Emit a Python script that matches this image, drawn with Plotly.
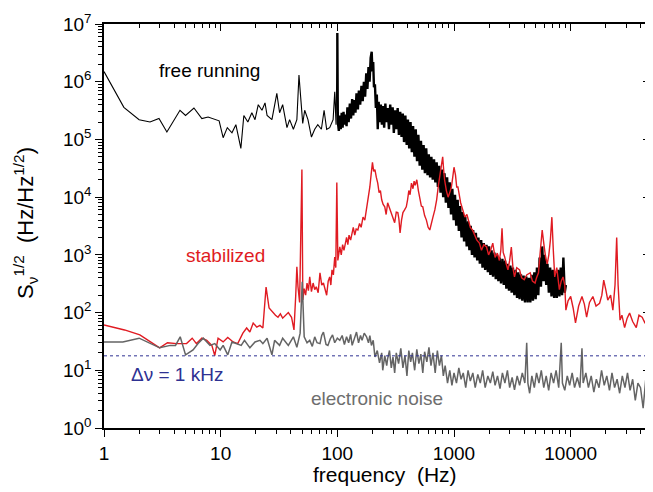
import plotly.graph_objects as go

# ---------------- data ----------------
# free running laser, below 100 Hz (thin single trace)
free_f_low = [1, 1.48, 2.0, 2.48, 2.96, 3.46, 4.48, 5.0, 5.9, 6.9, 7.8, 8.6, 9.7, 10.5, 11.4, 12.5, 13.5,
              14.9, 15.8, 17.1, 18.5, 19.7, 21, 22.6, 24, 25, 27.5, 30.3, 32, 34, 37, 39, 42, 45, 46.9,
              48.5, 50.5, 52.5, 56, 60, 64, 68, 73, 77, 81, 86, 92, 95, 97.5, 100]
free_s_low = [1.5e6, 3.6e5, 2.2e5, 2.0e5, 2.3e5, 1.35e5, 3.2e5, 2.6e5, 3.5e5, 2.3e5, 2.45e5, 2.3e5, 2.1e5,
              1.07e5, 1.6e5, 1.3e5, 1.8e5, 7e4, 2.6e5, 2.0e5, 2.9e5, 2.2e5, 4.0e5, 3.2e5, 4.3e5, 2.6e5,
              2.2e5, 6.3e5, 2.9e5, 4.0e5, 1.6e5, 2.2e5, 1.5e5, 2.2e5, 1.3e6, 5.4e5, 1.9e5, 3.2e5, 2.2e5,
              1.1e5, 1.5e5, 1.8e5, 1.5e5, 3.2e5, 1.5e5, 1.6e5, 2.2e5, 6.7e5, 1.8e5, 7e6]
# free running laser, above 100 Hz (dense noisy band)
free_f_high = [100, 101, 103, 105, 107, 109, 111, 113, 115, 117, 120, 122, 125, 128, 131, 134, 137, 140,
               143, 146, 150, 153, 157, 161, 165, 169, 173, 177, 181, 185, 189, 193, 197, 200, 203, 206,
               210, 214, 218, 222, 226, 231, 236, 241, 246, 252, 258, 264, 270, 277, 284, 291, 298, 305,
               313, 321, 329, 337, 346, 355, 364, 373, 383, 393, 403, 413, 424, 435, 446, 458, 470, 482,
               495, 508, 521, 535, 549, 563, 578, 593, 608, 624, 640, 657, 674, 692, 710, 728, 747, 767,
               787, 808, 829, 851, 873, 896, 919, 943, 968, 993, 1020, 1045, 1075, 1100, 1130, 1160, 1190,
               1220, 1250, 1285, 1320, 1355, 1390, 1425, 1460, 1500, 1540, 1580, 1620, 1665, 1710, 1755,
               1800, 1850, 1900, 1950, 2000, 2050, 2100, 2160, 2220, 2280, 2340, 2400, 2460, 2530, 2600,
               2670, 2740, 2810, 2880, 2960, 3040, 3120, 3200, 3290, 3380, 3470, 3560, 3650, 3750, 3850,
               3950, 4060, 4170, 4280, 4390, 4510, 4630, 4750, 4880, 5010, 5140, 5280, 5420, 5560, 5710,
               5860, 6010, 6170, 6330, 6500, 6670, 6850, 7030, 7220, 7410, 7600, 7800, 8010, 8220, 8440,
               8660, 8890, 9100]
free_s_high = [7e6, 2.0e5, 1.4e5, 2.6e5, 1.5e5, 2.9e5, 1.6e5, 3.0e5, 1.8e5, 2.7e5, 1.7e5, 3.6e5, 2.0e5,
               4.2e5, 2.3e5, 5.0e5, 2.6e5, 4.8e5, 2.9e5, 6.3e5, 3.3e5, 7.0e5, 4.0e5, 8.5e5, 4.6e5, 1.0e6,
               5.5e5, 1.4e6, 7.5e5, 1.8e6, 1.0e6, 2.6e6, 3.3e6, 1.5e6, 2.2e6, 8.0e5, 9.0e5, 3.5e5, 6.0e5,
               1.5e5, 4.5e5, 2.0e5, 4.0e5, 1.8e5, 3.8e5, 1.6e5, 4.2e5, 2.0e5, 3.5e5, 1.5e5, 4.0e5, 1.8e5,
               3.6e5, 1.3e5, 3.2e5, 1.5e5, 3.5e5, 1.2e5, 3.0e5, 1.1e5, 2.8e5, 9.0e4, 2.6e5, 8.0e4, 2.2e5,
               7.0e4, 2.0e5, 6.0e4, 1.7e5, 5.0e4, 1.5e5, 4.2e4, 1.2e5, 3.5e4, 9.5e4, 3.0e4, 8.0e4, 2.6e4,
               7.0e4, 2.4e4, 5.5e4, 2.2e4, 5.0e4, 2.0e4, 4.5e4, 1.8e4, 4.0e4, 1.5e4, 3.5e4, 1.2e4, 3.0e4,
               1.0e4, 2.6e4, 8.0e3, 2.2e4, 6.5e3, 1.8e4, 5.0e3, 1.4e4, 4.0e3, 1.1e4, 3.2e3, 9.0e3, 2.6e3,
               7.0e3, 2.0e3, 5.5e3, 1.7e3, 4.5e3, 1.4e3, 3.8e3, 1.2e3, 3.2e3, 1.0e3, 2.7e3, 9.0e2, 2.4e3,
               8.0e2, 2.0e3, 7.0e2, 1.8e3, 6.0e2, 1.6e3, 5.5e2, 1.5e3, 5.0e2, 1.4e3, 4.5e2, 1.2e3, 4.2e2,
               1.1e3, 3.8e2, 1.0e3, 3.5e2, 9.0e2, 3.2e2, 8.5e2, 3.0e2, 8.0e2, 2.6e2, 7.0e2, 2.4e2, 6.5e2,
               2.2e2, 6.0e2, 2.0e2, 5.5e2, 1.8e2, 5.0e2, 1.7e2, 4.6e2, 1.6e2, 4.4e2, 1.5e2, 4.2e2, 1.5e2,
               4.0e2, 1.5e2, 4.5e2, 1.6e2, 5.0e2, 1.7e2, 6.0e2, 2.0e2, 9.0e2, 2.8e2, 1.4e3, 3.5e2, 1.0e3,
               3.0e2, 7.0e2, 2.2e2, 6.0e2, 1.9e2, 5.5e2, 1.8e2, 5.0e2, 1.8e2, 5.5e2, 1.9e2, 6.0e2, 2.0e2,
               9.0e2, 2.2e2, 3.0e2]

stab_f = [1, 1.5, 2.03, 3.0, 3.5, 4.2, 5.1, 5.7, 6.2, 6.9, 7.6, 8.4, 8.9, 9.5, 10.5, 11.5, 12.8, 14,
          15.5, 16.7, 17.8, 19, 20.4, 21.7, 23, 24.5, 26, 28, 29.5, 31, 32.5, 34, 36, 38, 40.5, 42.5,
          44, 45, 46, 47.5, 49.7, 50.6, 52, 53.5, 55, 56.5, 58, 60, 62, 64, 66, 68.5, 71, 73.5, 76,
          78.5, 81, 83.5, 86, 88, 90, 92.5, 95, 97, 99, 101, 103, 105, 108, 111, 114, 117, 120, 123,
          126, 130, 134, 137, 141, 145, 150, 155, 160, 166, 172, 178, 184, 190, 195, 200, 205, 210,
          216, 222, 228, 234, 240, 247, 255, 262, 270, 280, 290, 300, 310, 320, 330, 337, 345, 355,
          365, 377, 390, 400, 410, 420, 432, 445, 455, 465, 480, 495, 510, 525, 540, 560, 580, 600,
          620, 640, 660, 685, 710, 735, 760, 780, 800, 815, 830, 860, 890, 920, 950, 975, 1000, 1030,
          1055, 1080, 1110, 1140, 1190, 1240, 1290, 1320, 1380, 1440, 1500, 1570, 1650, 1720, 1800,
          1900, 1980, 2060, 2150, 2250, 2350, 2450, 2520, 2580, 2640, 2720, 2800, 2900, 3000, 3100,
          3200, 3300, 3450, 3650, 3800, 4000, 4200, 4500, 4700, 4950, 5100, 5300, 5500, 5700, 5900,
          6100, 6300, 6500, 6700, 6900, 7100, 7300, 7600, 8000, 8300, 8600, 8900, 9100, 9500, 10000,
          10500, 11000, 11700, 12500, 13100, 13700, 14500, 15500, 16500, 17700, 18500, 19200, 20000,
          20800, 22000, 23000, 24000, 24800, 25500, 26500, 27500, 29000, 30500, 32000, 34000, 36500,
          38500, 41000, 43500, 45500, 47500]
stab_s = [61, 50, 41, 24.5, 30, 29, 29, 36, 29, 36, 33, 27, 18, 36, 31, 37, 31, 29, 44, 54, 46, 66, 56,
          60, 54, 277, 120, 100, 90, 83, 95, 80, 90, 100, 83, 50, 200, 620, 280, 150, 3.0e4, 165, 260,
          200, 325, 240, 415, 230, 325, 250, 280, 220, 490, 300, 325, 240, 200, 350, 415, 300, 550,
          450, 920, 600, 1.8e4, 800, 1000, 1370, 1000, 1500, 1200, 1700, 2000, 1500, 2200, 1800, 2600,
          3000, 2200, 2800, 2700, 3500, 3000, 4500, 4000, 6000, 9000, 1.5e4, 2.5e4, 4.0e4, 2.8e4,
          3.0e4, 2.2e4, 1.75e4, 1.2e4, 1.3e4, 9000, 7500, 6800, 5000, 8000, 6500, 5400, 4500, 3600,
          5500, 5400, 4200, 2400, 4000, 5400, 6000, 6800, 9000, 1.3e4, 1.1e4, 1.75e4, 1.4e4, 1.9e4,
          1.6e4, 2.0e4, 1.3e4, 1.0e4, 7000, 6800, 4800, 4000, 3000, 2700, 3800, 4500, 6000, 9000,
          1.6e4, 2.6e4, 3.8e4, 5.0e4, 3.0e4, 2.0e4, 1.3e4, 1.0e4, 1.2e4, 1.5e4, 2.2e4, 3.3e4, 2.4e4,
          1.5e4, 1.5e4, 1.0e4, 8000, 6000, 4500, 5000, 4000, 3000, 2700, 2200, 1800, 1600, 1200,
          1500, 1370, 1000, 1200, 1600, 900, 1070, 800, 1200, 2900, 1100, 920, 700, 550, 800, 1370,
          600, 415, 600, 550, 400, 370, 450, 490, 350, 325, 400, 490, 1200, 2700, 1500, 900, 700,
          1000, 1800, 4500, 1200, 415, 600, 250, 350, 415, 300, 110, 160, 190, 120, 66, 130, 190,
          140, 83, 150, 190, 130, 145, 200, 365, 250, 165, 200, 110, 300, 2000, 300, 74, 90, 55, 80,
          98, 70, 55, 90, 83, 65, 110, 100]

noise_f = [1, 1.45, 2.0, 3.0, 3.7, 4.1, 4.5, 5.0, 5.8, 6.4, 7.1, 8.1, 8.9, 9.9, 10.5, 11.5, 12.5, 13.8,
           15, 16, 17.8, 19.7, 21.7, 23, 25, 27.5, 29, 32, 34, 38, 42, 45, 48, 50, 51, 52, 55, 58, 61,
           64, 67, 71, 73.5, 76, 80, 83, 87, 91, 95, 100, 105, 110, 115, 120, 125, 130, 134, 140, 146,
           152, 158, 163, 170, 178, 185, 190, 196, 203, 210, 220, 230, 240, 245, 255, 265, 270, 280,
           290, 300, 310, 320, 335, 350, 365, 380, 395, 410, 425, 440, 460, 480, 500, 520, 540, 560,
           585, 610, 635, 660, 690, 720, 750, 780, 810, 840, 880, 920, 960, 1000, 1050, 1100, 1150,
           1200, 1260, 1320, 1380, 1450, 1520, 1600, 1680, 1760, 1850, 1950, 2050, 2150, 2250, 2360,
           2480, 2600, 2730, 2870, 3000, 3150, 3300, 3480, 3650, 3850, 4050, 4200, 4300, 4450, 4650,
           4880, 5100, 5350, 5600, 5880, 6170, 6480, 6800, 7140, 7500, 7900, 8300, 8500, 8900, 9350,
           9800, 10300, 10800, 11400, 12000, 12500, 12800, 13500, 14200, 15000, 15800, 16600, 17500,
           18400, 19400, 20400, 21500, 22600, 23800, 25000, 26300, 27700, 29200, 30700, 32300, 34000,
           35800, 37700, 39700, 41800, 44000, 46300, 47800]
noise_s = [31, 31, 36, 24.5, 27, 27, 38, 18.5, 22.5, 29, 36, 27, 29, 22.5, 27, 18.5, 31, 29, 27, 33,
           24.5, 31, 33, 29, 36, 18.5, 33, 27, 36, 27, 38, 25, 44, 340, 60, 38, 30, 33, 26, 38, 30, 29,
           40, 46, 28, 27, 35, 41, 30, 36, 33, 40, 28, 38, 30, 42, 27, 35, 46, 30, 40, 33, 44, 38, 30,
           40, 27, 33, 17, 22, 13.4, 20, 10, 18, 12, 16, 22, 11, 17, 9, 20, 13, 24, 11, 18, 8, 22, 14,
           20, 10, 23, 13, 19, 9, 21, 14, 25, 12, 20, 9, 22, 12, 18, 8, 12, 6, 10, 5.5, 9, 6, 11, 7, 9,
           5, 10, 6.5, 9, 5, 8.5, 6, 10, 5, 8, 6, 9.5, 5.5, 8, 4.8, 9, 6, 10, 5, 7.5, 4.6, 8, 5.5, 9, 6,
           30, 6, 4, 8, 5, 9, 6, 10, 5, 8, 4.5, 9, 6, 10, 5, 30, 6, 4.5, 8, 5.5, 9, 5, 7.5, 5, 24, 6, 9,
           5, 8, 4.2, 7, 5, 10, 5.5, 8, 4.5, 9, 5, 7, 4, 8, 5, 9, 4.5, 7, 3, 6, 5, 2.2, 7, 4, 6]

linewidth_f = [1, 47800]          # Δν = 1 kHz level (S = sqrt(Δν/π))
linewidth_s = [17.8, 17.8]

y_tickvals = [1, 10, 100, 1000, 1e4, 1e5, 1e6, 1e7]
y_ticktext = ["10<sup>0</sup>", "10<sup>1</sup>", "10<sup>2</sup>", "10<sup>3</sup>",
              "10<sup>4</sup>", "10<sup>5</sup>", "10<sup>6</sup>", "10<sup>7</sup>"]
x_tickvals = [1, 10, 100, 1000, 10000]
x_ticktext = ["1", "10", "100", "1000", "10000"]
x_minor = [m * 10 ** k for k in range(5) for m in range(2, 10)]
y_minor = [m * 10 ** k for k in range(7) for m in range(2, 10)]

# ---------------- figure ----------------
FONT = "Liberation Sans, Arial, Helvetica, sans-serif"
RED = "#E01B22"
GRAY = "#646464"
BLUE = "#2E3192"

fig = go.Figure()
fig.add_trace(go.Scatter(x=free_f_low, y=free_s_low, mode="lines",
                         line=dict(color="black", width=1.1), hoverinfo="skip"))
fig.add_trace(go.Scatter(x=free_f_high, y=free_s_high, mode="lines",
                         line=dict(color="black", width=2.4), hoverinfo="skip"))
fig.add_trace(go.Scatter(x=stab_f, y=stab_s, mode="lines",
                         line=dict(color=RED, width=1.4), hoverinfo="skip"))
fig.add_trace(go.Scatter(x=noise_f, y=noise_s, mode="lines",
                         line=dict(color=GRAY, width=1.5), hoverinfo="skip"))
fig.add_trace(go.Scatter(x=linewidth_f, y=linewidth_s, mode="lines", xaxis="x2", yaxis="y2",
                         line=dict(color=BLUE, width=1, dash="3px,3px"), hoverinfo="skip"))

XR = [0, 4.68]
YR = [0, 7]


def axis(tickvals, minor_vals, rng, ticks, **kw):
    d = dict(type="log", range=rng, showline=True, linecolor="black", linewidth=1.5,
             ticks=ticks, ticklen=7, tickwidth=1.3, tickcolor="black",
             tickmode="array", tickvals=tickvals, showgrid=False, zeroline=False,
             automargin=False,
             minor=dict(ticks=ticks, tickmode="array", tickvals=minor_vals, ticklen=4,
                        tickwidth=1, tickcolor="black", showgrid=False))
    d.update(kw)
    return d


# the page body has an 8 px margin, so the figure is 8 px smaller and margins shifted
fig.update_layout(
    template="none",
    width=645, height=484,
    margin=dict(l=96, r=3, t=16, b=64, autoexpand=False),
    paper_bgcolor="white", plot_bgcolor="white",
    showlegend=False,
    font=dict(family=FONT, color="black", size=19),
    xaxis=axis(x_tickvals, x_minor, XR, "outside", ticktext=x_ticktext, tickfont=dict(size=19)),
    yaxis=axis(y_tickvals, y_minor, YR, "outside", ticktext=y_ticktext, tickfont=dict(size=19)),
    xaxis2=axis(x_tickvals, x_minor, XR, "inside", overlaying="x", side="top",
                showticklabels=False),
    yaxis2=axis(y_tickvals, y_minor, YR, "inside", overlaying="y", side="right",
                showticklabels=False),
)

annots = [
    dict(text="free running", x=0.194, y=0.886, font=dict(size=19, color="black")),
    dict(text="stabilized", x=0.223, y=0.428, font=dict(size=19, color=RED)),
    dict(text="Δν = 1 kHz", x=0.134, y=0.133, font=dict(size=19, color=BLUE)),
    dict(text="electronic noise", x=0.50, y=0.074, font=dict(size=19, color="#6E6E6E")),
    dict(text="frequency  (Hz)", x=0.515, y=-0.116, font=dict(size=21, color="black")),
    dict(text="S<sub>ν</sub><sup>1/2</sup>  (Hz/Hz<sup>1/2</sup>)", x=-0.145, y=0.507,
         textangle=-90, font=dict(size=22, color="black")),
]
for a in annots:
    fig.add_annotation(xref="paper", yref="paper", showarrow=False,
                       xanchor="center", yanchor="middle", **a)

fig.write_html("out.html")
